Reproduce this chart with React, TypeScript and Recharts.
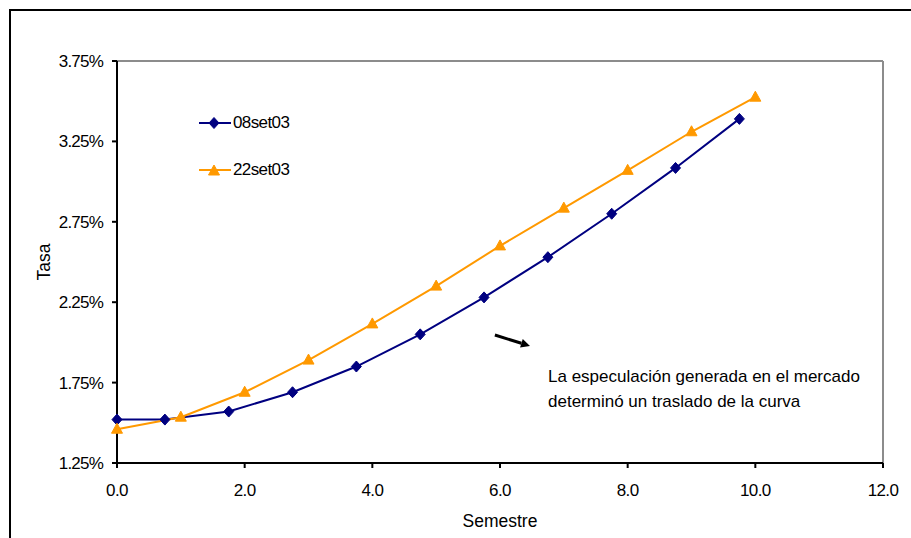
import React from 'react';
import {
  LineChart,
  Line,
  XAxis,
  YAxis,
  ReferenceLine,
  Legend,
} from 'recharts';

// Semestre positions for each curve
const semestres08 = [0, 0.75, 1.75, 2.75, 3.75, 4.75, 5.75, 6.75, 7.75, 8.75, 9.75];
const tasas08 = [1.52, 1.52, 1.57, 1.69, 1.85, 2.05, 2.28, 2.53, 2.8, 3.085, 3.39];

const semestres22 = [0, 1, 2, 3, 4, 5, 6, 7, 8, 9, 10];
const tasas22 = [1.46, 1.535, 1.69, 1.89, 2.115, 2.35, 2.6, 2.835, 3.07, 3.31, 3.525];

const xTicks = [0, 2, 4, 6, 8, 10, 12];
const yTicks = [1.25, 1.75, 2.25, 2.75, 3.25, 3.75];

const seriesNames = ['08set03', '22set03'];
const annotationLines = [
  'La especulación generada en el mercado',
  'determinó un traslado de la curva',
];
// arrow start/end in (semestre, tasa)
const arrowFrom = [5.92, 2.046];
const arrowTo = [6.47, 1.978];

const BLUE = '#000080';
const ORANGE = '#FF9900';
const FONT = '"Liberation Sans", Arial, sans-serif';

const data08 = semestres08.map((s, i) => ({ s, v: tasas08[i] }));
const data22 = semestres22.map((s, i) => ({ s, v: tasas22[i] }));

const Diamond = (props: any) => {
  const { cx, cy } = props;
  if (cx == null || cy == null) return null;
  return (
    <polygon
      points={`${cx},${cy - 5.5} ${cx + 5},${cy} ${cx},${cy + 5.5} ${cx - 5},${cy}`}
      fill={BLUE}
      stroke={BLUE}
      strokeWidth={1}
    />
  );
};

const Triangle = (props: any) => {
  const { cx, cy } = props;
  if (cx == null || cy == null) return null;
  return (
    <polygon
      points={`${cx},${cy - 6} ${cx + 5.5},${cy + 4} ${cx - 5.5},${cy + 4}`}
      fill={ORANGE}
      stroke={ORANGE}
      strokeWidth={1}
    />
  );
};

const LegendContent = () => (
  <div style={{ fontFamily: FONT, fontSize: 17, color: '#000' }}>
    {seriesNames.map((name, i) => (
      <div
        key={name}
        style={{ display: 'flex', alignItems: 'center', height: 24, marginBottom: i === 0 ? 23 : 0 }}
      >
        <svg width={34} height={14} style={{ display: 'block' }}>
          <line x1={0} y1={7} x2={32} y2={7} stroke={i === 0 ? BLUE : ORANGE} strokeWidth={2} />
          {i === 0 ? <Diamond cx={15} cy={7} /> : <Triangle cx={15} cy={8} />}
        </svg>
        <span style={{ letterSpacing: -0.6 }}>{name}</span>
      </div>
    ))}
  </div>
);

const Arrow = (props: any) => {
  const { x1, y1, x2, y2 } = props;
  if ([x1, y1, x2, y2].some((v) => v == null || Number.isNaN(v))) return null;
  const ang = Math.atan2(y2 - y1, x2 - x1);
  const len = 9;
  const w = 4.5;
  const bx = x2 - len * Math.cos(ang);
  const by = y2 - len * Math.sin(ang);
  const px = -Math.sin(ang) * w;
  const py = Math.cos(ang) * w;
  return (
    <g>
      <line x1={x1} y1={y1} x2={bx} y2={by} stroke="#000" strokeWidth={3} />
      <polygon points={`${x2},${y2} ${bx + px},${by + py} ${bx - px},${by - py}`} fill="#000" />
    </g>
  );
};

export default function App() {
  return (
    <div style={{ position: 'absolute', left: 0, top: 0, width: 911, height: 538, background: '#fff' }}>
      {/* outer chart frame */}
      <div
        style={{
          position: 'absolute',
          left: 9,
          top: 9,
          width: 902,
          height: 529,
          borderTop: '2px solid #000',
          borderLeft: '2px solid #000',
          boxSizing: 'border-box',
        }}
      />
      <LineChart
        width={911}
        height={538}
        margin={{ top: 61, right: 28, bottom: 5, left: 20 }}
        style={{ position: 'absolute', left: 0, top: 0, fontFamily: FONT }}
      >
        <XAxis
          dataKey="s"
          type="number"
          domain={[0, 12]}
          ticks={xTicks}
          allowDuplicatedCategory={false}
          tickFormatter={(v: number) => v.toFixed(1)}
          stroke="#000"
          strokeWidth={2}
          tickSize={5}
          tickMargin={16}
          height={70}
          tick={{ fill: '#000', fontSize: 17, letterSpacing: -0.6 }}
          label={{ value: 'Semestre', position: 'insideBottom', offset: 6, fill: '#000', fontSize: 17.5 }}
        />
        <YAxis
          dataKey="v"
          type="number"
          domain={[1.25, 3.75]}
          ticks={yTicks}
          tickFormatter={(v: number) => v.toFixed(2) + '%'}
          stroke="#000"
          strokeWidth={2}
          tickSize={5}
          tickMargin={9}
          width={97}
          tick={{ fill: '#000', fontSize: 17, letterSpacing: -0.8 }}
          label={{
            value: 'Tasa',
            angle: -90,
            position: 'insideLeft',
            offset: 24,
            fill: '#000',
            fontSize: 17.5,
            style: { textAnchor: 'middle' },
          }}
        />
        <ReferenceLine y={3.75} stroke="#8c8c8c" strokeWidth={2} />
        <ReferenceLine x={12} stroke="#8c8c8c" strokeWidth={2} />
        <ReferenceLine
          segment={[
            { x: arrowFrom[0], y: arrowFrom[1] },
            { x: arrowTo[0], y: arrowTo[1] },
          ]}
          shape={<Arrow />}
        />
        <Legend
          layout="vertical"
          verticalAlign="middle"
          align="center"
          content={<LegendContent />}
          wrapperStyle={{ left: 199, top: 111, width: 120 }}
        />
        <Line
          data={data08}
          dataKey="v"
          name={seriesNames[0]}
          stroke={BLUE}
          strokeWidth={2}
          dot={<Diamond />}
          activeDot={false}
          isAnimationActive={false}
        />
        <Line
          data={data22}
          dataKey="v"
          name={seriesNames[1]}
          stroke={ORANGE}
          strokeWidth={2}
          dot={<Triangle />}
          activeDot={false}
          isAnimationActive={false}
        />
      </LineChart>
      <div
        style={{
          position: 'absolute',
          left: 548,
          top: 364,
          fontFamily: FONT,
          fontSize: 17,
          lineHeight: '25px',
          color: '#000',
          whiteSpace: 'nowrap',
        }}
      >
        {annotationLines.map((l) => (
          <div key={l}>{l}</div>
        ))}
      </div>
    </div>
  );
}
